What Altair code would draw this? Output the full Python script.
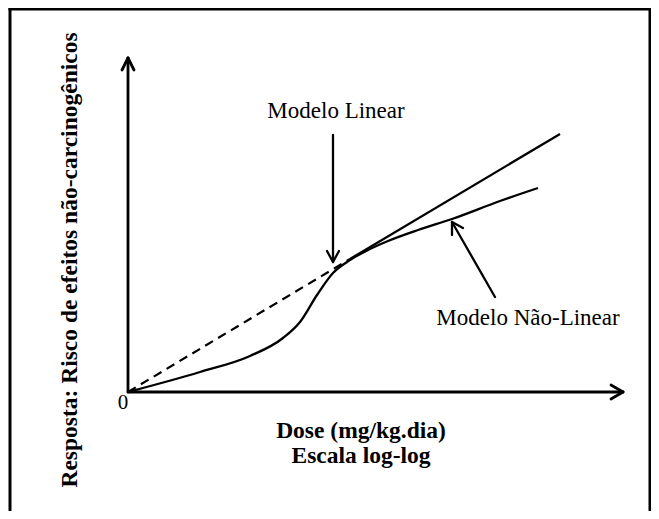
import altair as alt
import pandas as pd

# Diagram units: distance (px-like units) from the origin of the schematic axes
# Non-linear dose-response model (solid S-shaped curve)
curve_x = [0, 72, 122, 155, 172, 189, 205, 222, 240, 260, 290, 324, 372, 410]
curve_y = [0, 20, 36, 54, 70, 97, 119, 132, 142, 151, 162, 173, 191, 204]

# Linear model: dashed extrapolation at low dose, solid above
lin_dash_x = [0, 222]
lin_dash_y = [0, 133]
lin_solid_x = [222, 432]
lin_solid_y = [133, 258]

# Axes with open arrow heads (segments x, y -> x2, y2)
axis_x1 = [0, -6, 6, 0, 483, 483]
axis_y1 = [0, 322, 322, 0, 7, -7]
axis_x2 = [0, 0, 0, 495, 495, 495]
axis_y2 = [334, 334, 334, 0, 0, 0]

# Pointer arrows towards the two models
ptr_x1 = [205, 199, 211, 367, 324, 335]
ptr_y1 = [257, 141, 141, 95, 157, 164]
ptr_x2 = [205, 205, 205, 324, 324, 324]
ptr_y2 = [130, 130, 130, 170, 170, 170]

# Frame (left, top, right)
frame_x1 = [-118, -118, 522]
frame_y1 = [-119, 383, -119]
frame_x2 = [-118, 522, 522]
frame_y2 = [383, 383, 383]

# Labels
label_text = ["Modelo Linear", "Modelo Não-Linear"]
label_x = [208, 400]
label_y = [274, 67]
zero_text = ["0"]
zero_x = [-5]
zero_y = [-17]
title_text = ["Dose (mg/kg.dia)", "Escala log-log"]
title_x = [233, 233]
title_y = [-46, -71]
ytitle_text = ["Resposta: Risco de efeitos  não-carcinogênicos"]
ytitle_x = [-58]
ytitle_y = [132]

XDOM = [-120, 523]
YDOM = [-119, 384]
FONT = "Liberation Serif"

xs = alt.Scale(domain=XDOM, nice=False, zero=False)
ys = alt.Scale(domain=YDOM, nice=False, zero=False)


def X(f="x"):
    return alt.X(f"{f}:Q", scale=xs, axis=None)


def Y(f="y"):
    return alt.Y(f"{f}:Q", scale=ys, axis=None)


curve_df = pd.DataFrame({"x": curve_x, "y": curve_y})
dash_df = pd.DataFrame({"x": lin_dash_x, "y": lin_dash_y})
solid_df = pd.DataFrame({"x": lin_solid_x, "y": lin_solid_y})
axis_df = pd.DataFrame({"x": axis_x1, "y": axis_y1, "x2": axis_x2, "y2": axis_y2})
ptr_df = pd.DataFrame({"x": ptr_x1, "y": ptr_y1, "x2": ptr_x2, "y2": ptr_y2})
frame_df = pd.DataFrame({"x": frame_x1, "y": frame_y1, "x2": frame_x2, "y2": frame_y2})
label_df = pd.DataFrame({"x": label_x, "y": label_y, "t": label_text})
zero_df = pd.DataFrame({"x": zero_x, "y": zero_y, "t": zero_text})
title_df = pd.DataFrame({"x": title_x, "y": title_y, "t": title_text})
ytitle_df = pd.DataFrame({"x": ytitle_x, "y": ytitle_y, "t": ytitle_text})

curve = alt.Chart(curve_df).mark_line(
    color="black", strokeWidth=2.3, interpolate="monotone"
).encode(x=X(), y=Y())

dash = alt.Chart(dash_df).mark_line(
    color="black", strokeWidth=2.2, strokeDash=[9, 6]
).encode(x=X(), y=Y())

solid = alt.Chart(solid_df).mark_line(
    color="black", strokeWidth=2.3
).encode(x=X(), y=Y())

axes = alt.Chart(axis_df).mark_rule(
    color="black", strokeWidth=2.8, strokeCap="round"
).encode(x=X(), y=Y(), x2="x2:Q", y2="y2:Q")

ptrs = alt.Chart(ptr_df).mark_rule(
    color="black", strokeWidth=2.3, strokeCap="round"
).encode(x=X(), y=Y(), x2="x2:Q", y2="y2:Q")

frame = alt.Chart(frame_df).mark_rule(
    color="black", strokeWidth=3, strokeCap="square"
).encode(x=X(), y=Y(), x2="x2:Q", y2="y2:Q")

labels = alt.Chart(label_df).mark_text(
    font=FONT, fontSize=23, color="black", align="center", baseline="alphabetic"
).encode(x=X(), y=Y(), text="t:N")

zero = alt.Chart(zero_df).mark_text(
    font=FONT, fontSize=21, color="black", align="center", baseline="alphabetic"
).encode(x=X(), y=Y(), text="t:N")

titles = alt.Chart(title_df).mark_text(
    font=FONT, fontSize=23.5, fontWeight="bold", color="black",
    align="center", baseline="alphabetic"
).encode(x=X(), y=Y(), text="t:N")

ytitle = alt.Chart(ytitle_df).mark_text(
    font=FONT, fontSize=23.5, fontWeight="bold", color="black",
    align="center", baseline="middle", angle=270
).encode(x=X(), y=Y(), text="t:N")

chart = alt.layer(
    frame, axes, dash, solid, curve, ptrs, labels, zero, titles, ytitle
).properties(
    width=643, height=503, autosize=alt.AutoSizeParams(type="none"), padding=0,
    background="white"
).configure_view(strokeWidth=0)

chart.save("out.html", embed_options={"renderer": "svg", "actions": False})
